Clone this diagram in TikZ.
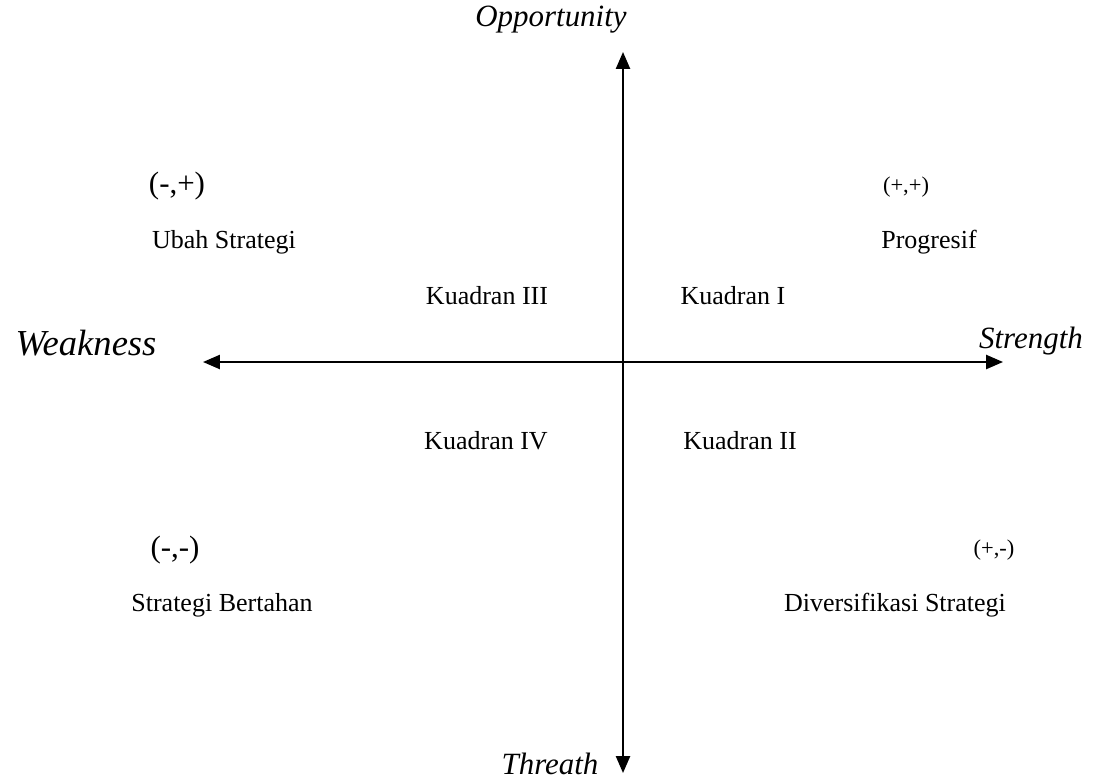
\documentclass[tikz,border=0pt]{standalone}
\usepackage{fontspec}
\setmainfont{Liberation Serif}
\usetikzlibrary{arrows.meta}

\begin{document}
\begin{tikzpicture}[x=0.025cm,y=-0.025cm,
    axis/.style={line width=1.4pt,-{Triangle[length=12pt,width=10pt]}},
    lbl/.style={font=\fontsize{18.5}{22}\selectfont},
    axlbl/.style={font=\fontsize{22}{26}\selectfont\itshape},
    sgn/.style={font=\fontsize{16}{20}\selectfont}]
  \useasboundingbox (0,0) rectangle (1095,783);
  % axes
  \coordinate (o) at (623,362);
  \coordinate (top) at (623,52);
  \coordinate (bot) at (623,773);
  \coordinate (left) at (203,362);
  \coordinate (right) at (1003,362);
  \draw[axis] (o) -- (top);
  \draw[axis] (o) -- (bot);
  \draw[axis] (o) -- (left);
  \draw[axis] (o) -- (right);
  \node[axlbl] (opp) at (551,20) {Opportunity};
  \node[axlbl] (thr) at (550,764) {Threath};
  \node[axlbl,font=\fontsize{26}{30}\selectfont\itshape] (weak) at (86,343) {Weakness};
  \node[axlbl] (str) at (1031,341) {Strength};
  % quadrants
  \node[lbl] (k3) at (487,296) {Kuadran III};
  \node[lbl] (k1) at (733,296) {Kuadran I};
  \node[lbl] (k4) at (486,441) {Kuadran IV};
  \node[lbl] (k2) at (740,441) {Kuadran II};
  % corners
  \node[lbl,font=\fontsize{22}{26}\selectfont] (mp) at (177,186) {(-,+)};
  \node[lbl] (ubah) at (224,242) {Ubah Strategi};
  \node[sgn] (pp) at (906,187) {(+,+)};
  \node[lbl] (prog) at (929,242) {Progresif};
  \node[lbl,font=\fontsize{22}{26}\selectfont] (mm) at (175,550) {(-,-)};
  \node[lbl] (tahan) at (222,605) {Strategi Bertahan};
  \node[sgn] (pm) at (994,550) {(+,-)};
  \node[lbl] (div) at (895,605) {Diversifikasi Strategi};
\end{tikzpicture}
\end{document}
